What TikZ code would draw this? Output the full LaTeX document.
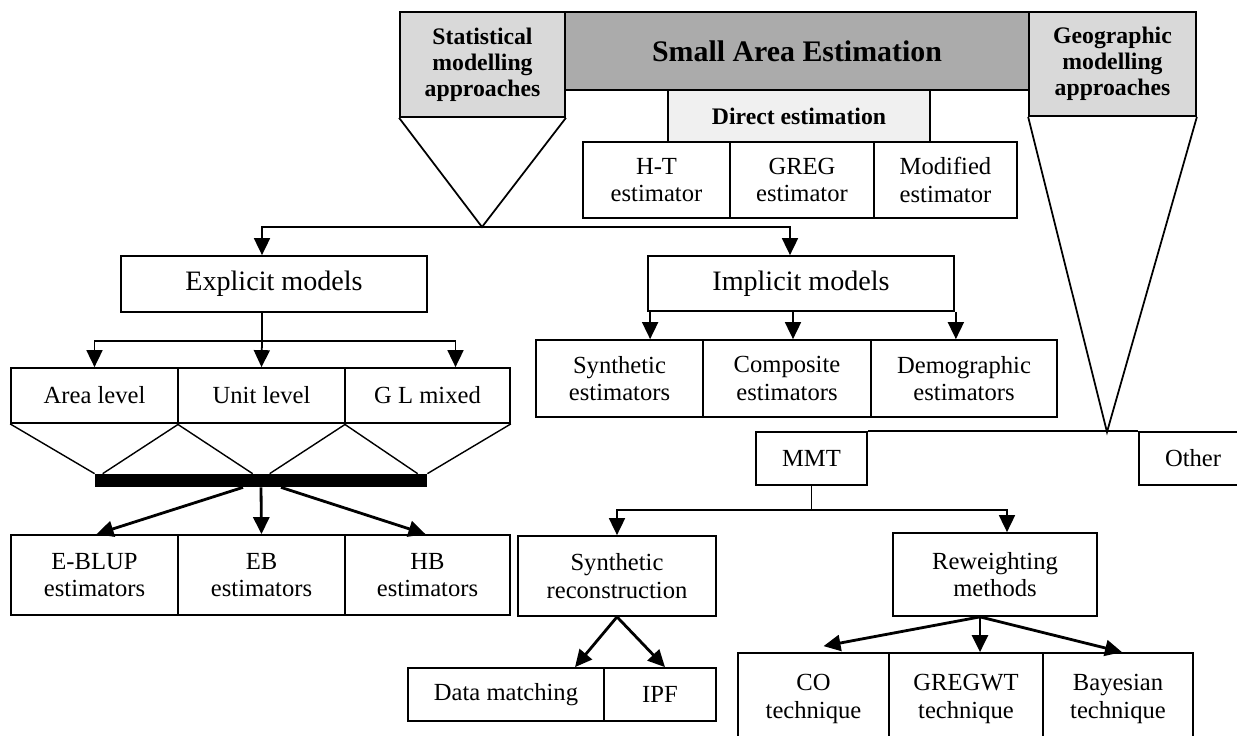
\documentclass[tikz,border=0pt]{standalone}
\usepackage{fontspec}
\setmainfont{Liberation Serif}
\usetikzlibrary{arrows.meta}

\definecolor{darkhead}{RGB}{171,171,171}
\definecolor{lighthead}{RGB}{217,217,217}
\definecolor{palehead}{RGB}{240,240,240}

\begin{document}
\begin{tikzpicture}[x=0.02cm,y=-0.02cm]
		\tikzstyle{every node}=[font=\fontsize{14pt}{15.5pt}\selectfont]
		\tikzstyle{box}=[draw, line width=1pt, inner sep=0pt, align=center]
		\tikzstyle{hd}=[font=\bfseries\fontsize{13.5pt}{14.8pt}\selectfont]
		\tikzstyle{arr}=[line width=1pt, -{Triangle[length=0.34cm,width=0.32cm]}]
		\tikzstyle{thick arr}=[line width=1.6pt, -{Triangle[length=0.34cm,width=0.32cm]}]
		
		\useasboundingbox (0,0) rectangle (1237,735);
		
		% top boxes
		\node [box, hd, fill=lighthead, minimum width=165*0.02cm, minimum height=105*0.02cm] (stat) at (482.5,64.5) {Statistical\\modelling\\approaches};
		\node [box, fill=darkhead, minimum width=464*0.02cm, minimum height=78*0.02cm, font=\bfseries\fontsize{17pt}{18pt}\selectfont] (sae) at (797,51) {Small Area Estimation};
		\node [box, hd, fill=lighthead, minimum width=167*0.02cm, minimum height=104*0.02cm] (geo) at (1112.5,64) {Geographic\\modelling\\approaches};
		\node [box, hd, fill=palehead, minimum width=262*0.02cm, minimum height=52*0.02cm] (direct) at (799,116) {Direct estimation};
		
		\node [box, minimum width=147*0.02cm, minimum height=76*0.02cm] (ht) at (656.5,180) {H-T\\estimator};
		\node [box, minimum width=144*0.02cm, minimum height=76*0.02cm] (greg) at (802,180) {GREG\\estimator};
		\node [box, minimum width=143*0.02cm, minimum height=76*0.02cm] (modif) at (945.5,180) {Modified\\estimator};
		
		% statistical branch
		\coordinate (sapex) at (482,227);
		\draw [line width=1pt] (stat.south west) -- (sapex) -- (stat.south east);
		
		\node [box, minimum width=306*0.02cm, minimum height=56*0.02cm, font=\fontsize{16pt}{17pt}\selectfont] (explicit) at (274,284) {Explicit models};
		\node [box, minimum width=306*0.02cm, minimum height=55*0.02cm, font=\fontsize{16pt}{17pt}\selectfont] (implicit) at (801,283.5) {Implicit models};
		
		\draw [arr] (sapex) -| ([shift={(-12,0)}]explicit.north);
		\draw [arr] (sapex) -| ([shift={(-11,0)}]implicit.north);
		
		\node [box, minimum width=167*0.02cm, minimum height=55*0.02cm] (area) at (94.5,395.5) {Area level};
		\node [box, minimum width=167*0.02cm, minimum height=55*0.02cm] (unit) at (261.5,395.5) {Unit level};
		\node [box, minimum width=165*0.02cm, minimum height=55*0.02cm] (glm) at (427.5,395.5) {G L mixed};
		
		\draw [line width=1pt] ([shift={(-12,0)}]explicit.south) -- ++(0,28) coordinate (ejoin);
		\draw [arr] (ejoin) -| (area.north);
		\draw [arr] (ejoin) -- (unit.north);
		\draw [arr] (ejoin) -| ([shift={(28,0)}]glm.north);
		
		\node [fill=black, inner sep=0pt, minimum width=332*0.02cm, minimum height=13*0.02cm] (bar) at (261,480.5) {};
		
		\draw [line width=0.8pt] (area.south west) -- (bar.north west);
		\draw [line width=0.8pt] (area.south east) -- ([shift={(8,0)}]bar.north west);
		\draw [line width=0.8pt] (unit.south west) -- ([shift={(158,0)}]bar.north west);
		\draw [line width=0.8pt] (unit.south east) -- ([shift={(175,0)}]bar.north west);
		\draw [line width=0.8pt] (glm.south west) -- ([shift={(323,0)}]bar.north west);
		\draw [line width=0.8pt] (glm.south east) -- (bar.north east);
		
		\node [box, minimum width=167*0.02cm, minimum height=80*0.02cm] (eblup) at (94.5,575) {E-BLUP\\estimators};
		\node [box, minimum width=167*0.02cm, minimum height=80*0.02cm] (eb) at (261.5,575) {EB\\estimators};
		\node [box, minimum width=165*0.02cm, minimum height=80*0.02cm] (hb) at (427.5,575) {HB\\estimators};
		
		\draw [thick arr] ([shift={(-18,0)}]bar.south) -- ([shift={(2,0)}]eblup.north);
		\draw [thick arr] (bar.south) -- (eb.north);
		\draw [thick arr] ([shift={(20,0)}]bar.south) -- ([shift={(-2,0)}]hb.north);
		
		% implicit branch
		\node [box, minimum width=167*0.02cm, minimum height=77*0.02cm] (synth) at (619.5,378.5) {Synthetic\\estimators};
		\node [box, minimum width=168*0.02cm, minimum height=77*0.02cm] (comp) at (787,378.5) {Composite\\estimators};
		\node [box, minimum width=186*0.02cm, minimum height=77*0.02cm] (demo) at (964,378.5) {Demographic\\estimators};
		
		\coordinate (ia) at ([shift={(3,0)}]implicit.south west);
		\coordinate (ib) at ([shift={(-8,0)}]implicit.south);
		\coordinate (ic) at ([shift={(1,0)}]implicit.south east);
		\draw [arr] (ia) -- (ia |- synth.north);
		\draw [arr] (ib) -- (ib |- comp.north);
		\draw [arr] (ic) -- (ic |- demo.north);
		
		% geographic branch
		\coordinate (gapex) at (1107,432);
		\draw [line width=1pt] (geo.south west) -- (gapex) -- (geo.south east);
		
		\node [box, minimum width=111*0.02cm, minimum height=53*0.02cm] (mmt) at (811.5,458.5) {MMT};
		\node [box, minimum width=108*0.02cm, minimum height=53*0.02cm] (other) at (1193,458.5) {Other};
		\draw [line width=1pt] (mmt.north east) -- (other.north west);
		
		\node [box, minimum width=198*0.02cm, minimum height=80*0.02cm] (srecon) at (617,576) {Synthetic\\reconstruction};
		\node [box, minimum width=204*0.02cm, minimum height=83*0.02cm] (reweight) at (995,574.5) {Reweighting\\methods};
		
		\draw [line width=1pt] (mmt.south) -- ++(0,24) coordinate (mjoin);
		\draw [arr] (mjoin) -| (srecon.north);
		\draw [arr] (mjoin) -| ([shift={(12,0)}]reweight.north);
		
		\node [box, minimum width=196*0.02cm, minimum height=53*0.02cm] (datam) at (506,694.5) {Data matching};
		\node [box, minimum width=112*0.02cm, minimum height=53*0.02cm] (ipf) at (660,694.5) {IPF};
		
		\draw [thick arr] (srecon.south) -- ([shift={(69,0)}]datam.north);
		\draw [thick arr] (srecon.south) -- ([shift={(5,0)}]ipf.north);
		
		\node [box, minimum width=151*0.02cm, minimum height=92*0.02cm] (co) at (813.5,699) {CO\\technique};
		\node [box, minimum width=154*0.02cm, minimum height=92*0.02cm] (gregwt) at (966,699) {GREGWT\\technique};
		\node [box, minimum width=150*0.02cm, minimum height=92*0.02cm] (bayes) at (1118,699) {Bayesian\\technique};
		
		\draw [thick arr] ([shift={(-15,0)}]reweight.south) -- ([shift={(10,-6)}]co.north);
		\draw [thick arr] ([shift={(-15,0)}]reweight.south) -- ([shift={(14,0)}]gregwt.north);
		\draw [thick arr] ([shift={(-15,0)}]reweight.south) -- ([shift={(4,0)}]bayes.north);
		
	\end{tikzpicture}
\end{document}
